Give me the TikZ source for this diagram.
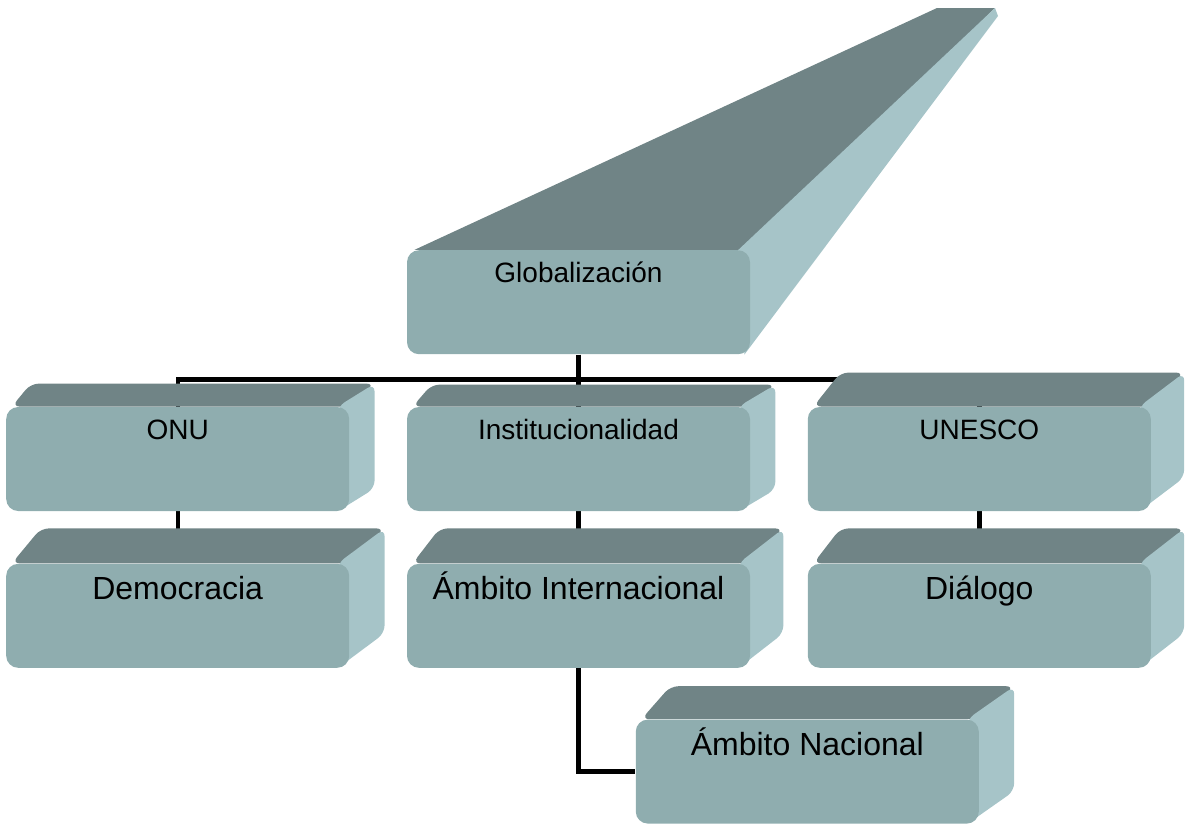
\documentclass[tikz,border=0pt]{standalone}
\usepackage{fontspec}
\setmainfont{Liberation Sans}
\usetikzlibrary{positioning,backgrounds}
\definecolor{frente}{HTML}{8FADAF}
\definecolor{tapa}{HTML}{708486}
\definecolor{lado}{HTML}{A6C4C8}
% caras de arriba y del lado de una caja: #1 nodo, #2 dx, #3 dy
\newcommand{\relieve}[3]{%
  \fill[tapa, rounded corners=4pt] ([xshift=3pt]#1.north west) -- ([shift={(#2,-#3)}]#1.north west) -- ([shift={(#2,-#3)}]#1.north east) -- (#1.north east) -- cycle;
  \fill[lado, rounded corners=4pt] ([xshift=-6pt]#1.north east) -- ([shift={(#2,-#3)}]#1.north east) -- ([shift={(#2,-#3)}]#1.south east) -- ([xshift=-6pt]#1.south east) -- cycle;
}

\begin{document}
\begin{tikzpicture}[x=0.5pt,y=-0.5pt]
    \tikzstyle{caja} = [rectangle, rounded corners=6pt, fill=frente, minimum width=171.5pt, minimum height=52pt, inner sep=0pt, text height=16pt, text depth=36pt, font=\fontsize{14}{16}\selectfont]
    \tikzstyle{grande} = [text height=17.75pt, text depth=34.25pt, font=\fontsize{16}{19}\selectfont]
    \tikzstyle{linea} = [line width=2.2pt, black]
    \useasboundingbox (0,0) rectangle (1189,825);
        \node (inst) [caja] at (578.5,459) {Institucionalidad};
        \node (onu) [caja,left=28.5pt of inst] {ONU};
        \node (unesco) [caja,right=28.5pt of inst] {UNESCO};
        \node (glob) [caja,above=26pt of inst] {Globalización};
        \node (demo) [caja,grande,below=26pt of onu] {Democracia};
        \node (ambint) [caja,grande,below=26pt of inst] {Ámbito Internacional};
        \node (dialogo) [caja,grande,below=26pt of unesco] {Diálogo};
        \node (ambnac) [caja,grande,below right=25.5pt and -57.5pt of ambint] {Ámbito Nacional};
        \coordinate (cima) at (995,8);
    \begin{pgfonlayer}{background}
        \draw[linea] (glob) -- (inst);
        \draw[linea] (glob.south) -- ++(0,25) coordinate (rama);
        \draw[linea] (onu) |- (rama) -| (unesco);
        \draw[linea] (onu) -- (demo);
        \draw[linea] (inst) -- (ambint);
        \draw[linea] (unesco) -- (dialogo);
        \draw[linea] (ambint) |- (ambnac);
        % la caja de arriba se va hacia el fondo
        \fill[tapa] ([xshift=4pt]glob.north west) -- ([xshift=-29]cima) -- (cima) -- (glob.north east) -- cycle;
        \fill[lado] ([xshift=-6pt]glob.north east) -- (cima) -- ([shift={(3,8)}]cima) -- ([xshift=-3pt]glob.south east) -- cycle;
        \relieve{onu}{25}{23}
        \relieve{inst}{25}{22}
        \relieve{unesco}{33}{34}
        \relieve{demo}{35}{35}
        \relieve{ambint}{33}{35}
        \relieve{dialogo}{33}{35}
        \relieve{ambnac}{35}{33}
    \end{pgfonlayer}
\end{tikzpicture}
\end{document}
